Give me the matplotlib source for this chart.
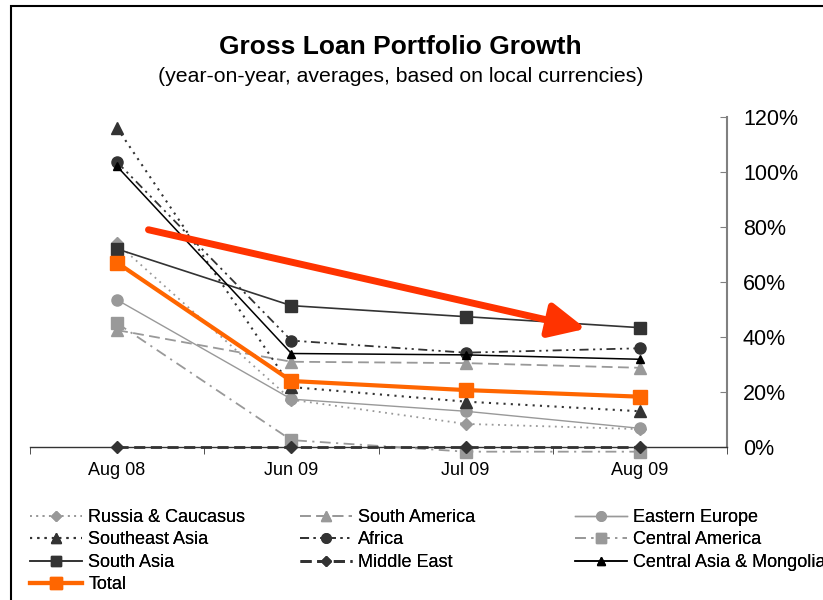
import matplotlib
matplotlib.use("Agg")
import matplotlib.pyplot as plt
from matplotlib.patches import Rectangle
from matplotlib.ticker import FuncFormatter, FixedLocator

plt.rcParams['font.family'] = ['Liberation Sans', 'DejaVu Sans']

# periods on the x axis
periods = ['Aug 08', 'Jun 09', 'Jul 09', 'Aug 09']

# growth rates, year-on-year (fractions)
russia_caucasus = [0.74, 0.172, 0.084, 0.065]
south_america = [0.425, 0.31, 0.305, 0.288]
eastern_europe = [0.535, 0.174, 0.13, 0.068]
southeast_asia = [1.16, 0.218, 0.165, 0.13]
africa = [1.036, 0.387, 0.343, 0.359]
central_america = [0.45, 0.025, -0.017, -0.017]
south_asia = [0.72, 0.514, 0.474, 0.434]
middle_east = [0.0, 0.0, 0.0, 0.0]
central_asia_mongolia = [1.02, 0.34, 0.335, 0.319]
total = [0.67, 0.24, 0.207, 0.183]

fig = plt.figure(figsize=(8.23, 6.0), dpi=100)
ax = fig.add_axes([30 / 823, 1 - 447 / 600, 697 / 823, 330 / 600])

x = list(range(len(periods)))
light = '#999999'
dark = '#333333'

# (label, values, color, linestyle, lw, marker, markersize)
series = [
    ('Russia & Caucasus', russia_caucasus, light, (0, (1, 2.5)), 1.3, 'D', 6),
    ('South America', south_america, light, (0, (6, 3)), 1.3, '^', 8),
    ('Eastern Europe', eastern_europe, light, '-', 1.0, 'o', 8),
    ('Southeast Asia', southeast_asia, dark, (0, (1, 2.5)), 1.5, '^', 8),
    ('Africa', africa, dark, (0, (5, 2.5, 1.2, 2.5, 1.2, 2.5)), 1.3, 'o', 8),
    ('Central America', central_america, light, (0, (6, 3, 1.2, 3)), 1.3, 's', 8),
    ('South Asia', south_asia, dark, '-', 1.2, 's', 8),
    ('Middle East', middle_east, dark, (0, (4, 2)), 2.0, 'D', 6),
    ('Central Asia & Mongolia', central_asia_mongolia, 'black', '-', 1.1, '^', 6),
    ('Total', total, '#FF6600', '-', 3.0, 's', 10),
]

handles = {}
for label, vals, color, ls, lw, mk, ms in series:
    ln, = ax.plot(x, vals, color=color, linestyle=ls, linewidth=lw,
                  marker=mk, markersize=ms, markerfacecolor=color,
                  markeredgecolor=color, label=label, clip_on=False,
                  zorder=5 if label == 'Total' else 3)
    handles[label] = ln

# trend arrow
ax.annotate('', xy=(2.69, 0.43), xytext=(0.18, 0.79),
            arrowprops=dict(arrowstyle='-|>,head_length=2.2,head_width=1.05',
                            color='#FF3300', lw=5, shrinkA=0, shrinkB=0),
            zorder=6, annotation_clip=False)

ax.set_xlim(-0.5, 3.5)
ax.set_ylim(0, 1.2)
ax.set_xticks(x)
ax.set_xticklabels(periods, fontsize=13)
ax.xaxis.set_minor_locator(FixedLocator([-0.5, 0.5, 1.5, 2.5, 3.5]))
ax.tick_params(axis='x', which='major', length=0, pad=11)
ax.tick_params(axis='x', which='minor', length=5, direction='out', color='#333333')

ax.yaxis.tick_right()
ax.set_yticks([0, 0.2, 0.4, 0.6, 0.8, 1.0, 1.2])
ax.yaxis.set_major_formatter(FuncFormatter(lambda v, p: f'{v * 100:.0f}%'))
ax.tick_params(axis='y', direction='in', length=5, labelsize=15.5, pad=11.5,
               color='#808080')

for s in ['top', 'left']:
    ax.spines[s].set_visible(False)
ax.spines['right'].set_color('#808080')
ax.spines['right'].set_linewidth(1.5)
ax.spines['bottom'].set_color('#333333')
ax.spines['bottom'].set_linewidth(1.0)

fig.text(0.487, 1 - 47 / 600, 'Gross Loan Portfolio Growth', ha='center',
         va='center', fontsize=19, fontweight='bold')
fig.text(0.487, 1 - 77 / 600,
         '(year-on-year, averages, based on local currencies)',
         ha='center', va='center', fontsize=15.3)

# legend laid out as three separate columns (last one runs off the edge,
# as in the original)
columns = [
    (30, ['Russia & Caucasus', 'Southeast Asia', 'South Asia', 'Total']),
    (300, ['South America', 'Africa', 'Middle East']),
    (575, ['Eastern Europe', 'Central America', 'Central Asia & Mongolia']),
]
for xpos, names in columns:
    leg = fig.legend([handles[k] for k in names], names, loc='upper left',
                     bbox_to_anchor=(xpos / 823, 1 - 509 / 600), frameon=False,
                     fontsize=13, handlelength=2.9, handletextpad=0.33,
                     labelspacing=0.3, borderaxespad=0, borderpad=0,
                     markerscale=0.85)
    fig.add_artist(leg)

# chart frame (runs off the right and bottom edge)
fig.patches.append(Rectangle((11 / 823, -0.05), 1.0, 1 - 6 / 600 + 0.05,
                             transform=fig.transFigure, fill=False,
                             edgecolor='black', linewidth=1.5))

fig.savefig('out.png', dpi=100)
